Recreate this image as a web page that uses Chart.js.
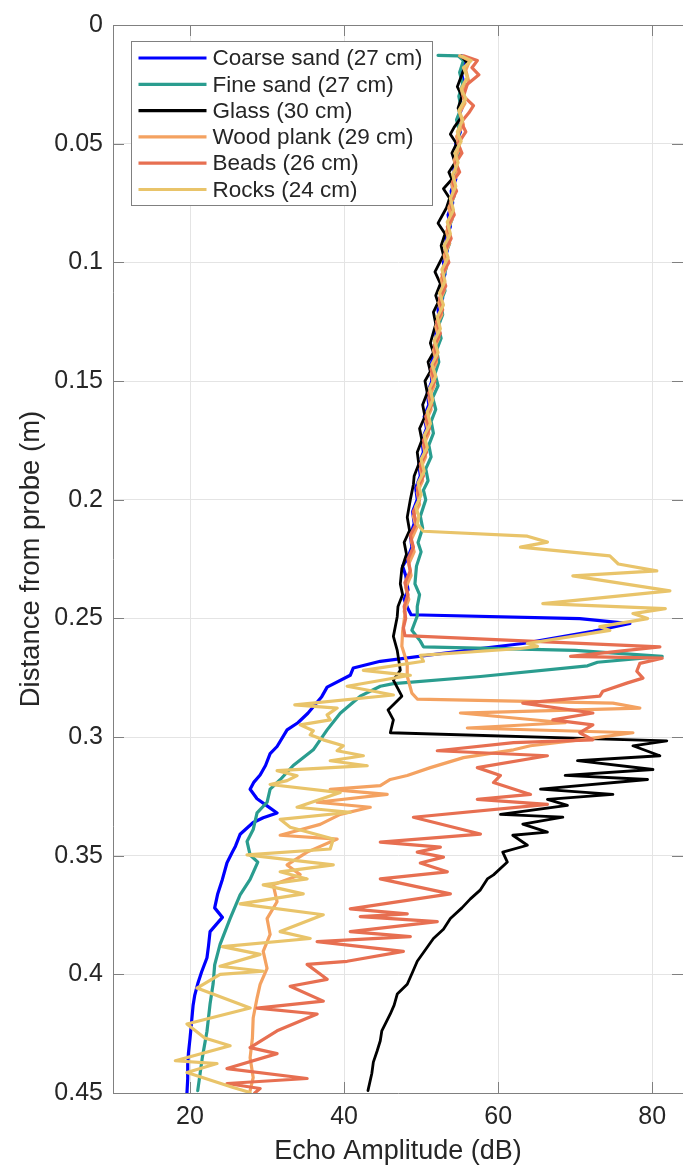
<!DOCTYPE html>
<html>
<head>
<meta charset="utf-8">
<title>Echo amplitude profiles</title>
<script src="https://cdn.jsdelivr.net/npm/chart.js@4.4.1/dist/chart.umd.min.js"></script>
<style>
  html, body { margin: 0; padding: 0; background: #ffffff; }
  canvas { display: block; }
</style>
</head>
<body>
<canvas id="echoChart" width="683" height="1171"></canvas>
<script>
// Echo amplitude (dB) against distance from the probe (m), one profile per bed material.
// Each profile is a list of [amplitude, distance] pairs.

const seriesNames = [
  'Coarse sand (27 cm)', 'Fine sand (27 cm)', 'Glass (30 cm)',
  'Wood plank (29 cm)', 'Beads (26 cm)', 'Rocks (24 cm)'
];

const xTicks = [20, 40, 60, 80];
const xTickLabels = ['20', '40', '60', '80'];
const yTicks = [0, 0.05, 0.1, 0.15, 0.2, 0.25, 0.3, 0.35, 0.4, 0.45];
const yTickLabels = ['0', '0.05', '0.1', '0.15', '0.2', '0.25', '0.3', '0.35', '0.4', '0.45'];

const coarseSand = [
  [55.3,0.013],[55.7,0.015],[55.2,0.02],[55.6,0.025],[55.0,0.03],[55.3,0.035],[54.7,0.04],[55.1,0.045],
  [54.5,0.05],[54.8,0.055],[54.2,0.06],[54.5,0.065],[53.9,0.07],[54.1,0.075],[53.5,0.08],[53.8,0.085],
  [53.2,0.09],[53.4,0.095],[52.9,0.1],[53.1,0.105],[52.5,0.11],[52.8,0.115],[52.2,0.12],[52.4,0.125],
  [51.9,0.13],[52.1,0.135],[51.5,0.14],[51.2,0.145],[51.4,0.15],[50.8,0.155],[51.0,0.16],[50.4,0.165],
  [50.7,0.17],[50.1,0.175],[50.3,0.18],[49.7,0.185],[49.9,0.19],[49.3,0.195],[49.5,0.2],[48.9,0.205],
  [49.1,0.21],[48.6,0.215],[48.8,0.22],[48.2,0.225],[47.6,0.228],[48.0,0.232],[48.3,0.238],[47.8,0.242],
  [48.3,0.246],[48.7,0.2485],[70.6,0.2501],[77.1,0.2522],[72.3,0.2555],[63.2,0.2606],[57.7,0.2627],
  [44.7,0.2681],[41.2,0.2709],[40.8,0.274],[37.8,0.279],[37.1,0.283],[35.3,0.29],[34.0,0.294],[32.6,0.297],
  [31.3,0.304],[30.4,0.307],[29.8,0.312],[29.1,0.316],[28.3,0.319],[27.8,0.322],[28.7,0.326],[30.0,0.329],
  [31.3,0.332],[29.5,0.334],[28.2,0.336],[26.5,0.341],[25.9,0.346],[25.5,0.3485],[24.8,0.353],[24.2,0.36],
  [23.6,0.366],[23.2,0.372],[24.2,0.376],[22.6,0.382],[22.4,0.388],[22.2,0.393],[21.5,0.399],[21.0,0.404],
  [20.6,0.409],[20.4,0.413],[20.2,0.42],[20.0,0.427],[19.8,0.433],[19.7,0.438],[19.7,0.444],[19.6,0.45]
];

const fineSand = [
  [52.2,0.0128],[54.8,0.013],[55.5,0.015],[55.0,0.02],[55.4,0.025],[54.9,0.03],[55.2,0.035],[54.6,0.04],
  [55.0,0.045],[54.6,0.05],[55.1,0.054],[54.4,0.058],[54.6,0.063],[54.0,0.067],[54.3,0.072],[53.7,0.077],
  [54.0,0.082],[53.4,0.087],[53.7,0.092],[53.1,0.097],[53.3,0.102],[52.8,0.107],[53.1,0.112],[52.5,0.117],
  [52.8,0.122],[52.2,0.127],[52.6,0.132],[52.0,0.137],[52.3,0.142],[51.8,0.147],[52.2,0.152],[51.5,0.157],
  [51.9,0.162],[51.3,0.167],[51.6,0.172],[51.0,0.177],[51.3,0.182],[50.6,0.187],[50.9,0.192],[50.3,0.196],
  [50.6,0.2],[49.9,0.207],[50.2,0.212],[49.6,0.218],[50.0,0.222],[49.4,0.228],[49.2,0.2355],[49.8,0.24],
  [49.5,0.245],[49.5,0.249],[48.8,0.255],[49.9,0.2596],[50.3,0.262],[70.0,0.2635],[81.3,0.266],
  [72.9,0.2685],[71.6,0.27],[57.7,0.2745],[46.4,0.2775],[44.7,0.2786],[42.1,0.2828],[39.5,0.29],
  [37.8,0.297],[36.0,0.3054],[33.4,0.312],[31.7,0.318],[30.4,0.322],[30.0,0.3275],[28.7,0.332],
  [28.2,0.339],[27.4,0.344],[27.8,0.3497],[28.8,0.3527],[27.8,0.36],[26.5,0.3665],[25.2,0.3765],
  [23.9,0.3874],[23.2,0.396],[23.0,0.404],[22.6,0.4125],[22.2,0.424],[21.6,0.435],[21.0,0.449]
];

const glass = [
  [55.2,0.013],[56.0,0.016],[55.4,0.02],[54.7,0.026],[55.3,0.03],[54.8,0.035],[55.2,0.039],[54.3,0.043],
  [53.8,0.046],[54.6,0.05],[54.0,0.054],[54.4,0.058],[53.6,0.062],[54.0,0.065],[52.9,0.069],[53.7,0.073],
  [53.3,0.077],[52.2,0.0835],[53.1,0.088],[52.6,0.093],[52.9,0.097],[51.8,0.104],[52.5,0.109],[51.9,0.114],
  [52.2,0.117],[51.6,0.121],[51.9,0.126],[51.2,0.134],[51.6,0.138],[50.9,0.142],[51.2,0.146],[50.5,0.15],
  [50.8,0.155],[50.2,0.16],[50.5,0.165],[49.8,0.17],[50.1,0.175],[49.5,0.18],[49.7,0.185],[49.1,0.19],
  [49.0,0.1936],[48.6,0.2],[48.2,0.2074],[48.5,0.213],[47.8,0.218],[48.1,0.223],[47.5,0.229],[47.3,0.2355],
  [47.6,0.24],[47.0,0.245],[46.9,0.2493],[46.4,0.2576],[46.9,0.2635],[47.3,0.2719],[46.4,0.276],
  [47.5,0.2828],[45.7,0.2886],[46.4,0.2928],[46.0,0.2982],[81.9,0.3016],[77.5,0.3037],[81.0,0.3079],
  [70.3,0.31],[80.1,0.3137],[68.7,0.3162],[79.4,0.3179],[65.5,0.322],[74.9,0.3242],[66.4,0.3263],
  [69.0,0.3288],[60.3,0.3326],[68.4,0.3338],[63.2,0.3367],[66.4,0.3401],[61.9,0.3414],[63.8,0.3456],
  [60.6,0.3485],[61.2,0.3527],[59.4,0.3581],[58.6,0.3598],[57.7,0.3644],[56.4,0.3682],[55.3,0.372],
  [53.8,0.3765],[52.9,0.381],[51.6,0.3849],[50.7,0.389],[49.5,0.3945],[48.9,0.399],[48.2,0.4042],
  [46.9,0.4083],[46.5,0.413],[46.0,0.4167],[44.9,0.4238],[44.7,0.428],[44.3,0.4322],[43.8,0.437],
  [43.6,0.4418],[43.1,0.449]
];

const woodPlank = [
  [55.0,0.013],[56.3,0.015],[55.8,0.019],[56.2,0.024],[55.3,0.028],[55.7,0.033],[55.0,0.037],[55.5,0.042],
  [54.6,0.047],[55.0,0.052],[54.3,0.057],[54.7,0.062],[54.0,0.067],[54.3,0.072],[53.6,0.077],[54.0,0.082],
  [53.3,0.087],[53.7,0.092],[53.0,0.097],[53.3,0.102],[52.6,0.107],[53.0,0.112],[52.3,0.117],[52.7,0.122],
  [51.9,0.127],[52.3,0.132],[51.6,0.137],[52.0,0.142],[51.3,0.147],[51.7,0.152],[51.0,0.157],[51.3,0.162],
  [50.6,0.167],[51.0,0.172],[50.3,0.177],[50.6,0.182],[49.9,0.187],[50.2,0.192],[49.5,0.197],[49.8,0.202],
  [49.0,0.207],[49.4,0.212],[48.7,0.217],[49.1,0.222],[48.4,0.227],[48.7,0.232],[48.0,0.237],[48.4,0.242],
  [47.8,0.247],[47.9,0.2485],[47.6,0.2554],[47.5,0.2618],[48.2,0.269],[48.2,0.2744],[48.8,0.2815],
  [49.5,0.284],[74.9,0.2857],[78.4,0.2878],[55.1,0.2899],[68.7,0.294],[56.0,0.2962],[77.5,0.2982],
  [70.6,0.3012],[64.2,0.3037],[62.0,0.3054],[55.5,0.3087],[51.2,0.3129],[48.2,0.3162],[46.0,0.3179],
  [44.7,0.3205],[38.2,0.3221],[45.6,0.3242],[36.5,0.3275],[43.4,0.3296],[39.5,0.3326],[36.9,0.3368],
  [31.7,0.3414],[39.1,0.343],[35.2,0.3485],[32.6,0.3539],[34.3,0.358],[30.8,0.3623],[31.3,0.3694],
  [30.0,0.3765],[30.4,0.3832],[29.5,0.3903],[30.0,0.3975],[29.1,0.4042],[28.7,0.41],[28.2,0.4184],
  [28.1,0.4268],[27.8,0.4351],[28.2,0.4435],[27.8,0.449]
];

const beads = [
  [55.5,0.013],[57.3,0.015],[56.6,0.018],[57.5,0.021],[56.0,0.025],[55.5,0.03],[56.8,0.034],[56.2,0.037],
  [55.2,0.041],[55.8,0.045],[54.8,0.05],[55.3,0.054],[54.5,0.058],[55.0,0.062],[54.1,0.066],[54.6,0.07],
  [53.8,0.075],[54.3,0.08],[53.4,0.085],[53.9,0.09],[53.1,0.095],[53.6,0.1],[52.7,0.105],[53.2,0.11],
  [52.4,0.115],[52.8,0.12],[52.0,0.125],[52.5,0.13],[51.7,0.135],[52.1,0.14],[51.3,0.145],[51.8,0.15],
  [51.0,0.155],[51.4,0.16],[50.6,0.165],[51.1,0.17],[50.3,0.175],[50.7,0.18],[49.9,0.185],[50.3,0.19],
  [49.5,0.195],[49.8,0.2],[49.0,0.205],[49.4,0.21],[48.6,0.215],[49.0,0.22],[48.3,0.225],[48.6,0.23],
  [47.9,0.235],[48.3,0.24],[47.8,0.245],[48.0,0.25],[47.7,0.254],[47.9,0.2573],[81.0,0.262],[69.4,0.266],
  [81.3,0.2668],[78.4,0.269],[78.0,0.2723],[78.8,0.2752],[76.7,0.2773],[73.6,0.2807],[73.2,0.2828],
  [63.2,0.2857],[72.3,0.2899],[67.1,0.2928],[72.3,0.2949],[70.6,0.2982],[72.3,0.3012],[62.0,0.3024],
  [52.1,0.3058],[66.4,0.3079],[57.3,0.3129],[60.3,0.3162],[59.4,0.3192],[64.2,0.3242],[57.3,0.3263],
  [66.4,0.3284],[49.0,0.3338],[57.7,0.3409],[44.7,0.3443],[52.5,0.3464],[49.5,0.3485],[52.9,0.3506],
  [49.9,0.3531],[53.4,0.3568],[44.7,0.3598],[53.8,0.3661],[40.8,0.3724],[48.2,0.3745],[42.1,0.3757],
  [52.1,0.3778],[40.8,0.382],[48.6,0.3841],[36.5,0.3862],[47.7,0.3903],[40.4,0.3945],[35.2,0.3958],
  [37.8,0.4021],[33.0,0.405],[37.3,0.4113],[28.7,0.4142],[36.5,0.4167],[31.3,0.4238],[27.8,0.4309],
  [31.3,0.4334],[24.8,0.4397],[35.2,0.4439],[24.8,0.446],[29.1,0.4481],[28.4,0.45]
];

const rocks = [
  [55.2,0.013],[56.5,0.015],[55.5,0.018],[56.0,0.022],[55.2,0.027],[55.8,0.031],[54.9,0.036],[55.4,0.04],
  [54.7,0.045],[55.2,0.049],[54.4,0.054],[54.8,0.058],[54.1,0.063],[54.5,0.068],[53.8,0.073],[54.2,0.078],
  [53.4,0.083],[53.8,0.088],[53.0,0.093],[53.5,0.098],[52.7,0.103],[53.1,0.108],[52.4,0.113],[52.9,0.118],
  [52.1,0.123],[52.5,0.128],[51.7,0.133],[52.2,0.138],[51.4,0.143],[51.9,0.148],[51.1,0.153],[51.5,0.158],
  [50.8,0.163],[51.2,0.168],[50.4,0.173],[50.8,0.178],[50.0,0.183],[50.4,0.188],[49.6,0.193],[50.0,0.198],
  [49.3,0.203],[49.7,0.207],[49.5,0.2103],[50.3,0.2133],[63.8,0.2154],[66.4,0.2179],[62.9,0.22],
  [74.5,0.2237],[75.6,0.2271],[80.6,0.23],[69.7,0.2321],[82.3,0.2384],[65.8,0.2438],[81.7,0.2459],
  [77.5,0.248],[79.4,0.2501],[73.2,0.2535],[74.5,0.2551],[63.8,0.2606],[65.1,0.2618],[62.9,0.2627],
  [49.9,0.2656],[50.3,0.2681],[42.5,0.2719],[48.6,0.274],[40.4,0.2786],[46.4,0.2823],[33.6,0.2865],
  [39.1,0.2878],[37.8,0.2907],[38.2,0.2928],[34.3,0.2949],[36.0,0.2974],[35.6,0.2991],[37.3,0.3012],
  [39.9,0.3037],[39.1,0.3058],[42.5,0.3079],[38.2,0.31],[43.0,0.3121],[31.3,0.3142],[33.9,0.3163],
  [32.6,0.3184],[30.4,0.32],[39.5,0.3234],[33.9,0.3296],[40.8,0.3317],[31.7,0.3347],[33.0,0.338],
  [38.6,0.343],[38.2,0.3472],[27.4,0.3497],[38.6,0.3539],[31.7,0.3568],[35.2,0.3598],[29.5,0.3623],
  [34.7,0.3661],[26.5,0.3703],[37.3,0.3749],[31.7,0.382],[35.6,0.3849],[24.2,0.3883],[29.1,0.3916],
  [23.9,0.3966],[29.5,0.3987],[23.9,0.4],[20.9,0.4058],[27.8,0.4142],[19.6,0.4209],[21.9,0.4268],
  [25.2,0.4301],[18.1,0.4364],[23.5,0.4376],[19.6,0.4414],[25.6,0.4477],[27.8,0.4498]
];

const profiles = [coarseSand, fineSand, glass, woodPlank, beads, rocks];
const lineColors = ['#0000ff', '#2a9d8f', '#000000', '#f4a261', '#e76f51', '#e9c46a'];

const TEXT_COLOR = '#262626';
const AXIS_COLOR = '#808080';
const GRID_COLOR = '#e4e4e4';
const FONT = "'Liberation Sans', Arial, Helvetica, sans-serif";
const TICK_LEN = 11;

Chart.defaults.font.family = FONT;
Chart.defaults.color = TEXT_COLOR;

// Top edge of the axes box plus inward-pointing tick marks on all four sides.
const axesBox = {
  id: 'axesBox',
  beforeDatasetsDraw(chart) {
    const { ctx, chartArea: a, scales } = chart;
    const snap = v => Math.round(v) + 0.5;
    ctx.save();
    ctx.strokeStyle = AXIS_COLOR;
    ctx.lineWidth = 1;
    ctx.beginPath();
    ctx.moveTo(a.left, snap(a.top));
    ctx.lineTo(a.right, snap(a.top));
    xTicks.forEach(v => {
      const px = snap(scales.x.getPixelForValue(v));
      ctx.moveTo(px, a.bottom); ctx.lineTo(px, a.bottom - TICK_LEN);
      ctx.moveTo(px, a.top); ctx.lineTo(px, a.top + TICK_LEN);
    });
    yTicks.forEach(v => {
      const py = snap(scales.y.getPixelForValue(v));
      ctx.moveTo(a.left, py); ctx.lineTo(a.left + TICK_LEN, py);
      ctx.moveTo(a.right, py); ctx.lineTo(a.right - TICK_LEN, py);
    });
    ctx.stroke();
    ctx.restore();
  }
};

// Legend box drawn inside the upper-left corner of the plot area.
const insetLegend = {
  id: 'insetLegend',
  afterDatasetsDraw(chart) {
    const { ctx, chartArea: a } = chart;
    const boxX = a.left + 18.5, boxY = a.top + 16.5;
    const boxW = 301, boxH = 164;
    const rowStart = boxY + 16.5, rowStep = 26.3;
    ctx.save();
    ctx.fillStyle = '#ffffff';
    ctx.fillRect(boxX, boxY, boxW, boxH);
    ctx.strokeStyle = AXIS_COLOR;
    ctx.lineWidth = 1;
    ctx.strokeRect(boxX, boxY, boxW, boxH);
    ctx.font = '22.5px ' + FONT;
    ctx.textBaseline = 'middle';
    ctx.textAlign = 'left';
    chart.data.datasets.forEach((ds, i) => {
      const y = rowStart + i * rowStep;
      ctx.strokeStyle = ds.borderColor;
      ctx.lineWidth = 3.2;
      ctx.beginPath();
      ctx.moveTo(boxX + 7, y);
      ctx.lineTo(boxX + 75, y);
      ctx.stroke();
      ctx.fillStyle = TEXT_COLOR;
      ctx.fillText(ds.label, boxX + 81, y + 1);
    });
    ctx.restore();
  }
};

const datasets = profiles.map((pts, i) => ({
  label: seriesNames[i],
  data: pts.map(p => ({ x: p[0], y: p[1] })),
  borderColor: lineColors[i],
  backgroundColor: lineColors[i],
  borderWidth: i === 2 ? 2.8 : 3.2,
  borderJoinStyle: 'round',
  borderCapStyle: 'round',
  showLine: true,
  pointRadius: 0,
  pointHoverRadius: 0,
  tension: 0,
  fill: false,
  order: profiles.length - i
}));

new Chart(document.getElementById('echoChart'), {
  type: 'scatter',
  data: { datasets },
  options: {
    responsive: false,
    devicePixelRatio: 1,
    animation: false,
    events: [],
    layout: { padding: { top: 17, right: 0, bottom: 0, left: 0 } },
    plugins: {
      legend: { display: false },
      tooltip: { enabled: false }
    },
    scales: {
      x: {
        type: 'linear',
        min: 10,
        max: 84,
        afterBuildTicks: s => { s.ticks = xTicks.map(v => ({ value: v })); },
        afterFit: s => { s.height = 78; },
        ticks: {
          color: TEXT_COLOR,
          font: { size: 25 },
          padding: 9,
          maxRotation: 0,
          callback: (v, i) => xTickLabels[i]
        },
        grid: { color: GRID_COLOR, lineWidth: 1, drawTicks: false },
        border: { display: true, color: AXIS_COLOR, width: 1 },
        title: {
          display: true,
          text: 'Echo Amplitude (dB)',
          color: TEXT_COLOR,
          font: { size: 27 },
          padding: { top: 0, bottom: 3 }
        }
      },
      y: {
        type: 'linear',
        reverse: true,
        min: 0,
        max: 0.45,
        afterBuildTicks: s => { s.ticks = yTicks.map(v => ({ value: v })); },
        afterFit: s => { s.width = 113; },
        ticks: {
          color: TEXT_COLOR,
          font: { size: 25 },
          padding: 10,
          callback: (v, i) => yTickLabels[i]
        },
        grid: { color: GRID_COLOR, lineWidth: 1, drawTicks: false },
        border: { display: true, color: AXIS_COLOR, width: 1 },
        title: {
          display: true,
          text: 'Distance from probe (m)',
          color: TEXT_COLOR,
          font: { size: 27.5 },
          padding: { top: 15, bottom: 0 }
        }
      }
    }
  },
  plugins: [axesBox, insetLegend]
});
</script>
</body>
</html>
